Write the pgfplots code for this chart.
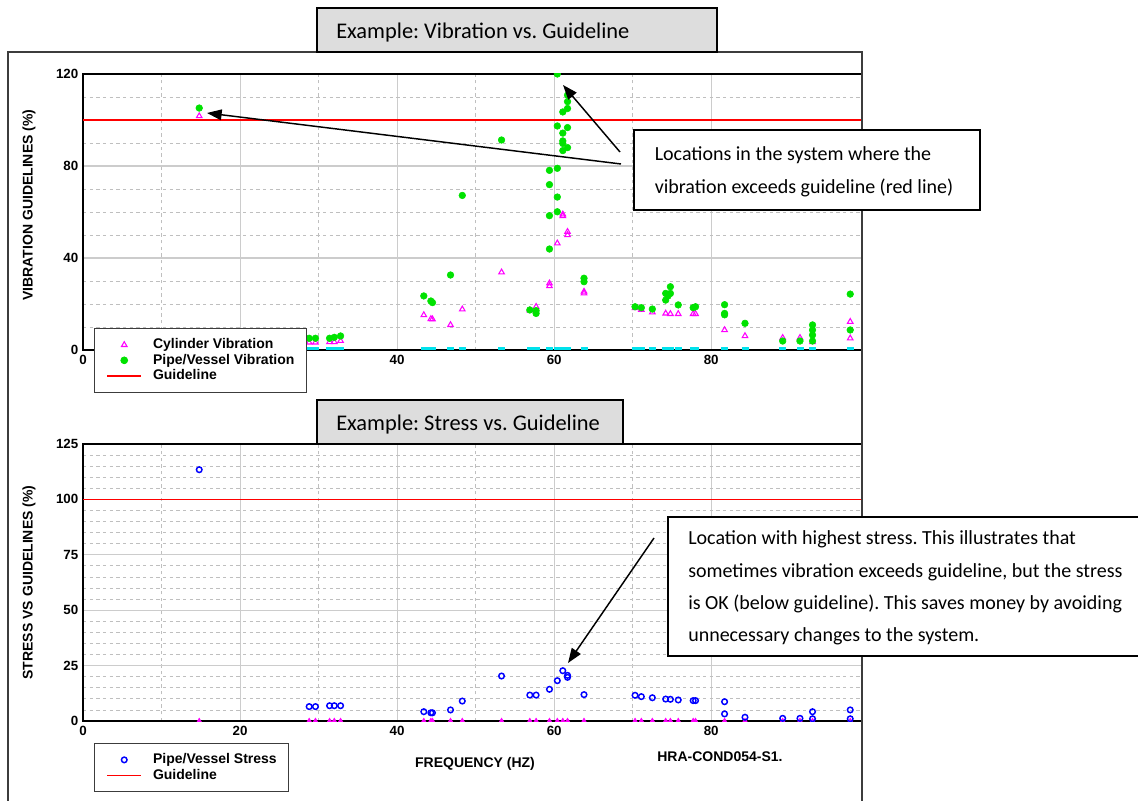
\documentclass[border=0pt]{standalone}
\usepackage{fontspec}
\setmainfont{Liberation Sans}
\newfontfamily\calibri{Carlito}
\usepackage{pgfplots}
\usepackage{pgfplotstable}
\pgfplotsset{compat=1.18}
\usetikzlibrary{arrows.meta}
\frenchspacing

\definecolor{vibgreen}{RGB}{0,226,0}
\definecolor{cylmag}{RGB}{255,0,255}
\definecolor{zerocyan}{RGB}{0,226,236}
\definecolor{boxgray}{RGB}{221,221,221}
\definecolor{framegray}{RGB}{60,60,60}
\definecolor{guidered}{RGB}{255,0,0}
\definecolor{stressblue}{RGB}{0,0,255}

% frequency (Hz) and cylinder vibration (% of guideline)
\pgfplotstableread{
f y
14.8 101.7
28.8 3.3
29.6 3.3
31.4 3.5
32.0 3.5
32.8 4.0
43.4 15.2
44.3 13.5
44.5 13.4
46.8 10.9
48.3 17.7
53.3 33.8
56.9 17.3
57.7 18.8
59.4 29.0
59.4 27.8
60.4 46.4
61.1 59.0
61.1 58.3
61.7 51.4
61.7 50.0
63.8 25.4
63.8 24.7
70.3 18.3
71.1 17.5
72.5 16.4
74.2 15.9
74.8 15.7
75.8 15.7
77.7 15.7
78.0 15.7
81.7 8.7
84.3 6.1
89.1 5.3
91.3 5.3
92.9 3.5
97.7 12.3
97.7 5.1
}\cylvib

% frequency (Hz) and pipe/vessel vibration (% of guideline)
\pgfplotstableread{
f y
14.8 105.2
28.8 5.1
29.6 5.1
31.4 5.1
32.0 5.5
32.8 6.1
43.4 23.5
44.3 21.3
44.5 20.6
46.8 32.6
48.3 67.2
53.3 91.3
56.9 17.4
57.7 17.1
57.7 15.9
59.4 78.1
59.4 71.9
59.4 58.4
59.4 43.9
60.4 120.0
60.4 97.4
60.4 79.0
60.4 66.5
60.4 60.1
61.1 103.5
61.1 94.3
61.1 90.9
61.1 89.8
61.1 86.7
61.7 110.8
61.7 108.0
61.7 105.0
61.7 96.7
61.7 88.0
63.8 31.2
63.8 29.7
70.3 18.8
71.1 18.4
72.5 17.8
74.2 21.7
74.2 24.6
74.5 23.5
74.8 27.5
74.8 24.6
75.8 19.6
77.7 18.4
78.0 18.8
81.7 19.7
81.7 15.9
81.7 15.3
84.3 11.6
89.1 3.9
91.3 3.9
92.9 10.9
92.9 8.7
92.9 6.5
92.9 3.9
97.7 24.3
97.7 8.7
}\pipevib

% frequency (Hz) and pipe/vessel stress (% of guideline)
\pgfplotstableread{
f y
14.8 113.4
28.8 6.5
29.6 6.5
31.4 6.9
32.0 6.9
32.8 6.9
43.4 4.2
44.3 3.7
44.5 3.7
46.8 5.0
48.3 9.0
53.3 20.3
56.9 11.7
57.7 11.7
59.4 14.3
60.4 18.2
61.1 22.7
61.7 20.6
61.7 19.7
63.8 11.9
70.3 11.6
71.1 11.0
72.5 10.5
74.2 9.9
74.8 9.8
75.8 9.5
77.7 9.2
78.0 9.2
81.7 8.7
81.7 3.2
84.3 1.7
89.1 1.2
91.3 1.2
92.9 4.2
92.9 1.0
97.7 5.0
97.7 1.0
}\pipestress

% locations whose response stays at zero
\pgfplotstableread{
f y
14.8 0
28.8 0
29.6 0
31.4 0
32.0 0
32.8 0
43.4 0
44.3 0
44.5 0
46.8 0
48.3 0
53.3 0
56.9 0
57.7 0
59.4 0
60.4 0
61.1 0
61.7 0
63.8 0
70.3 0
71.1 0
72.5 0
74.2 0
74.8 0
75.8 0
77.7 0
78.0 0
81.7 0
84.3 0
89.1 0
91.3 0
92.9 0
97.7 0
}\zeroes

% guideline level (100 % of the allowable)
\pgfplotstableread{
f y
0 100
99.2 100
}\guide

\pgfplotsset{
  chartbase/.style={
    scale only axis, width=584.25pt,
    xmin=0, xmax=99.2,
    xtick={0,20,...,80}, minor x tick num=1,
    grid=both,
    major grid style={draw=black!20, line width=0.8pt},
    minor grid style={draw=black!25, line width=0.6pt, dash pattern=on 2.5pt off 2.5pt},
    tick style={draw=none},
    axis line style={line width=1.1pt},
    clip marker paths=true,
    ticklabel style={font=\bfseries\fontsize{10}{12}\selectfont},
    /pgf/number format/assume math mode=true,
    label style={font=\bfseries\fontsize{10.5}{12}\selectfont},
  },
  legendbase/.style={
    legend cell align=left,
    legend image code/.code={\draw[mark repeat=2,mark phase=2] plot coordinates {(0pt,0pt)(12.75pt,0pt)(25.5pt,0pt)};},
    legend style={draw=framegray, line width=0.7pt, fill=white,
      font=\bfseries\fontsize{10.5}{12}\selectfont,
      anchor=north west, inner xsep=9pt, inner ysep=7.3pt, row sep=1.6pt,
      nodes={inner sep=0pt, text height=8pt, text depth=2pt},
      /tikz/every odd column/.append style={column sep=8.25pt}},
  },
}

\begin{document}
\begin{tikzpicture}
\useasboundingbox (0,0) rectangle (853.5pt,600pt);

% vibration plot
\begin{axis}[chartbase, legendbase,
  at={(62.25pt,337.5pt)}, anchor=south west, height=207pt,
  ymin=0, ymax=120, ytick={0,40,80,120}, minor y tick num=3,
  xticklabels={0,,40,60,80},
  ylabel={VIBRATION GUIDELINES (\%)},
  ylabel style={at={(axis description cs:-0.0694,0.525)}, anchor=center},
  legend style={at={(0.0141,0.0797)}}]
\addplot[forget plot, color=guidered, line width=1.2pt, mark=none] table[x=f,y=y] {\guide};
\addplot[forget plot, only marks, mark=square*, mark size=2.25pt, color=zerocyan] table[x=f,y=y] {\zeroes};
\addplot[only marks, mark=triangle, mark size=2.4pt, color=cylmag, mark options={line width=0.8pt}] table[x=f,y=y] {\cylvib};
\addlegendentry{Cylinder Vibration}
\addplot[only marks, mark=*, mark size=2.5pt, color=vibgreen] table[x=f,y=y] {\pipevib};
\addlegendentry{Pipe/Vessel Vibration}
\addlegendimage{color=guidered, line width=1.2pt}
\addlegendentry{Guideline}
\end{axis}

% stress plot: grid, frame and measured stresses
\begin{axis}[chartbase,
  at={(62.25pt,59.25pt)}, anchor=south west, height=207.75pt,
  ymin=0, ymax=125, ytick={0,25,...,125}, minor y tick num=4,
  ylabel={STRESS VS GUIDELINES (\%)},
  ylabel style={at={(axis description cs:-0.0694,0.5)}, anchor=center}]
\addplot[only marks, mark=triangle*, mark size=2.2pt, color=cylmag] table[x=f,y=y] {\zeroes};
\addplot[only marks, mark=o, mark size=2.1pt, color=stressblue, mark options={line width=1.1pt}] table[x=f,y=y] {\pipestress};
\end{axis}

% stress plot: guideline and legend on the same frame
\begin{axis}[legendbase, hide axis, clip=false, scale only axis, width=584.25pt,
  at={(62.25pt,59.25pt)}, anchor=south west, height=207.75pt,
  xmin=0, xmax=99.2, ymin=0, ymax=125,
  legend style={at={(0.0141,-0.0794)}}]
\addlegendimage{only marks, mark=o, mark size=2.1pt, color=stressblue, mark options={line width=1.1pt}}
\addplot[color=guidered, line width=1.2pt, mark=none] table[x=f,y=y] {\guide};
\legend{Pipe/Vessel Stress, Guideline}
\end{axis}

% frame, headings and callouts (pixel grid, origin top left)
\begin{scope}[x=0.75pt, y=-0.75pt, yshift=600pt]
  \draw[framegray, line width=1.5pt] (8,812) -- (8,52) -- (862,52) -- (862,812);
  \draw[black, line width=1pt, fill=boxgray] (317,8) rectangle (717,52);
  \node[anchor=base west, inner sep=0pt, font=\calibri\fontsize{16.8}{19}\selectfont] at (336,39) {Example: Vibration vs. Guideline};
  \draw[black, line width=1pt, fill=boxgray] (317,400) rectangle (623,444);
  \node[anchor=base west, inner sep=0pt, font=\calibri\fontsize{16.8}{19}\selectfont] at (336,431) {Example: Stress vs. Guideline};

  \node[anchor=center, inner sep=0pt, font=\bfseries\fontsize{10.5}{12}\selectfont] at (475,764) {FREQUENCY (HZ)};
  \node[anchor=center, inner sep=0pt, font=\bfseries\fontsize{10.5}{12}\selectfont] at (720,757) {HRA-COND054-S1.};

  \draw[black, line width=1.1pt, -{Triangle[length=11pt,width=8pt]}] (621,164) -- (207,113);
  \draw[black, line width=1.1pt, -{Triangle[length=11pt,width=8pt]}] (620,152) -- (563,85);
  \draw[black, line width=1.1pt, fill=white] (634,130) rectangle (980,210);
  \begin{scope}[every node/.style={anchor=base west, inner sep=0pt, font=\calibri\fontsize{15}{17}\selectfont}]
    \node at (654.5,161) {Locations in the system where the};
    \node at (654.5,194) {vibration exceeds guideline (red line)};
  \end{scope}

  \draw[black, line width=1.1pt, -{Triangle[length=11pt,width=8pt]}] (654,538) -- (568,663);
  \draw[black, line width=1.1pt, fill=white] (668,517) rectangle (1160,656);
  \begin{scope}[every node/.style={anchor=base west, inner sep=0pt, font=\calibri\fontsize{15}{17}\selectfont}]
    \node at (688,545) {Location with highest stress. This illustrates that};
    \node at (688,577) {sometimes vibration exceeds guideline, but the stress};
    \node at (688,609) {is OK (below guideline). This saves money by avoiding};
    \node at (688,641) {unnecessary changes to the system.};
  \end{scope}
\end{scope}
\end{tikzpicture}
\end{document}
